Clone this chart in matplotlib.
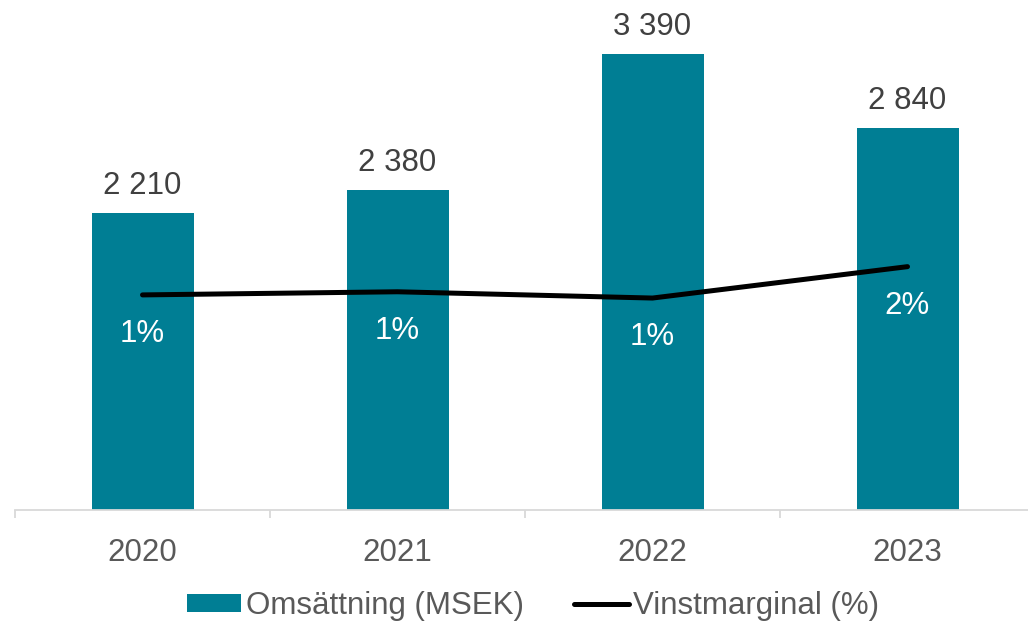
import numpy as np
import matplotlib
matplotlib.use("Agg")
import matplotlib.pyplot as plt
from matplotlib.patches import Patch
from matplotlib.lines import Line2D

# data
years = ["2020", "2021", "2022", "2023"]
revenue = [2210, 2380, 3390, 2840]          # Omsättning (MSEK)
margin = [1.37, 1.39, 1.35, 1.55]           # Vinstmarginal (%)

TEAL = "#007E94"
GRID = "#D9D9D9"

plt.rcParams["font.family"] = ["Liberation Sans", "DejaVu Sans"]
FS = 22.5

fig = plt.figure(figsize=(10.28, 6.24), dpi=100)
# plot area: x 15..1035 px, baseline at y=510 px from top
ax = fig.add_axes([15 / 1028, 114 / 624, 1020 / 1028, 471 / 624])
ax2 = ax.twinx()

x = np.arange(len(years))
bars = ax.bar(x, revenue, width=0.4, color=TEAL, zorder=2)
ax.set_xlim(-0.5, len(years) - 0.5)
ax.set_ylim(0, 3500)

for xi, v in zip(x, revenue):
    lab = f"{v:,}".replace(",", " ")
    ax.annotate(lab, (xi, v), xytext=(0, 19), textcoords="offset points",
                ha="center", va="center", fontsize=FS, color="#404040")

ax2.plot(x, margin, color="black", lw=3.6, solid_capstyle="round", zorder=3)
ax2.set_ylim(0, 3.0)
for xi, m in zip(x, margin):
    ax2.annotate(f"{m:.0f}%", (xi, m), xytext=(0, -28), textcoords="offset points",
                 ha="center", va="center", fontsize=FS, color="white")

# axes styling
for a in (ax, ax2):
    for s in ("top", "right", "left"):
        a.spines[s].set_visible(False)
    a.spines["bottom"].set_visible(False)
    a.set_yticks([])
ax.spines["bottom"].set_visible(True)
ax.spines["bottom"].set_color(GRID)
ax.spines["bottom"].set_linewidth(1.3)

ax.set_xticks(x)
ax.set_xticklabels(years, fontsize=FS, color="#595959")
ax.tick_params(axis="x", which="major", length=0, pad=20)
ax.set_xticks(np.arange(-0.5, len(years)), minor=True)
ax.tick_params(axis="x", which="minor", length=6, width=1.3, color=GRID)

handles = [Patch(facecolor=TEAL, edgecolor="none"),
           Line2D([], [], color="black", lw=3.6, solid_capstyle="round")]
fig.legend(handles, ["Omsättning (MSEK)", "Vinstmarginal (%)"],
           loc="center", bbox_to_anchor=(533 / 1028, 1 - 606 / 624),
           ncol=2, frameon=False, fontsize=FS, labelcolor="#595959",
           handlelength=1.75, handleheight=0.55, handletextpad=0.15,
           columnspacing=1.6, borderpad=0)

fig.savefig("out.png", dpi=100)
